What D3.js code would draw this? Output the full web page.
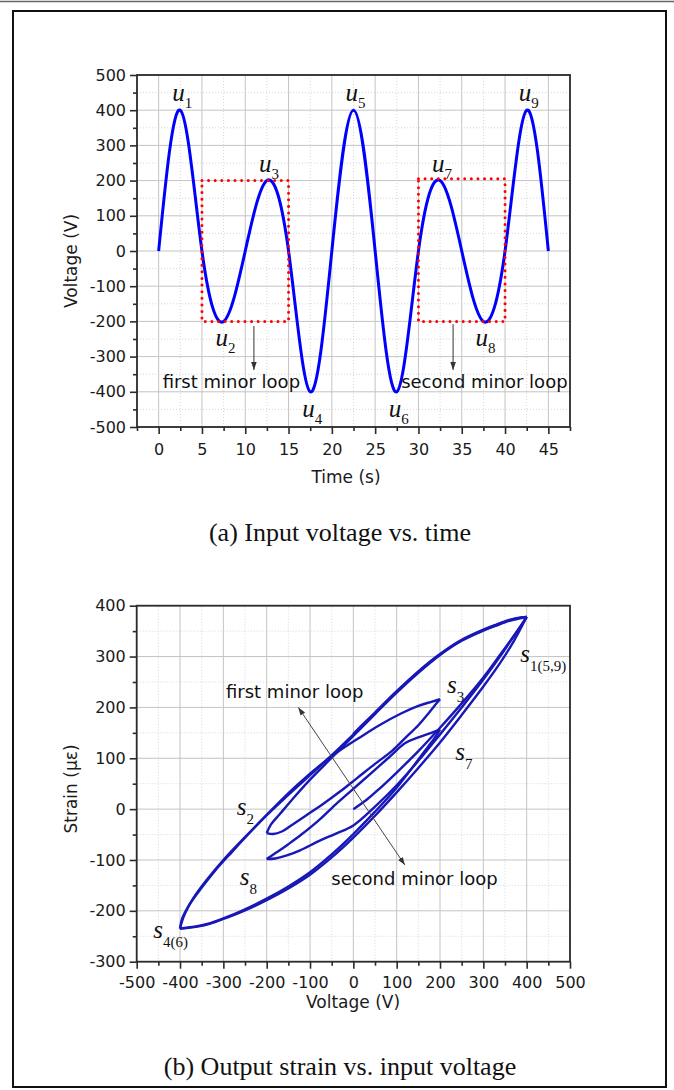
<!DOCTYPE html>
<html>
<head>
<meta charset="utf-8">
<script src="https://cdn.jsdelivr.net/npm/d3@7"></script>
<style>
  body { margin: 0; background: #fff; }
  svg { display: block; }
</style>
</head>
<body>
<svg width="674" height="1090"></svg>
<script>
// ---------- data (a): input voltage turning points ----------
const timePts = [0, 2.5, 5, 7.5, 10, 12.5, 15, 17.5, 20, 22.5, 25, 27.5, 30, 32.5, 35, 37.5, 40, 42.5, 45];
const voltPts = [0, 400, 0, -200, 0, 200, 0, -400, 0, 400, 0, -400, 0, 200, 0, -200, 0, 400, 0];
const uNames = ["1", "2", "3", "4", "5", "6", "7", "8", "9"];

const timeTicks = [0, 5, 10, 15, 20, 25, 30, 35, 40, 45];
const timeMinor = [-2.5, 2.5, 7.5, 12.5, 17.5, 22.5, 27.5, 32.5, 37.5, 42.5, 47.5];
const voltTicksA = [-500, -400, -300, -200, -100, 0, 100, 200, 300, 400, 500];
const voltMinorA = [-450, -350, -250, -150, -50, 50, 150, 250, 350, 450];

// red dotted boxes of the two minor loops
const boxT0 = [5, 30];
const boxT1 = [15, 40];
const boxV0 = [-200, -200];
const boxV1 = [200, 205];

// ---------- data (b): strain vs voltage, one array per half cycle ----------
const branch1 = [[0, 0], [30, 18], [60, 40], [100, 72], [150, 114], [200, 160], [250, 208], [300, 259], [340, 305], [370, 340], [390, 364], [400, 378]];
const branch2 = [[400, 378], [385, 375], [360, 370], [330, 361], [300, 351], [250, 331], [200, 303], [150, 268], [100, 229], [50, 187], [0, 144], [-50, 101], [-100, 58], [-140, 20], [-170, -10], [-190, -30], [-200, -47]];
const branch3 = [[-200, -47], [-185, -49], [-165, -44], [-140, -30], [-110, -13], [-70, 10], [-30, 35], [10, 62], [50, 89], [90, 115], [120, 140], [150, 165], [175, 190], [192, 208], [200, 216]];
const branch4 = [[200, 216], [180, 211], [150, 203], [110, 188], [60, 165], [15, 141], [-30, 116], [-80, 84], [-130, 47], [-180, 6], [-230, -38], [-280, -84], [-320, -122], [-355, -160], [-380, -190], [-395, -215], [-400, -235]];
const branch5 = [[-400, -235], [-385, -234], [-360, -231], [-330, -225], [-300, -216], [-250, -199], [-200, -179], [-150, -156], [-100, -129], [-50, -95], [0, -56], [50, -13], [100, 33], [150, 81], [200, 131], [250, 185], [300, 241], [340, 289], [370, 330], [388, 358], [396, 372], [400, 378]];
const branch6 = [[400, 378], [385, 376], [360, 371], [330, 362], [300, 352], [250, 332], [200, 304], [150, 270], [100, 231], [50, 189], [0, 147], [-50, 106], [-100, 67], [-150, 28], [-200, -12], [-250, -55], [-300, -100], [-340, -141], [-370, -176], [-388, -204], [-396, -222], [-400, -235]];
const branch7 = [[-400, -235], [-385, -233], [-360, -230], [-330, -224], [-300, -215], [-250, -197], [-200, -176], [-150, -152], [-100, -124], [-50, -89], [0, -49], [50, -5], [100, 42], [140, 86], [170, 120], [190, 143], [200, 157]];
const branch8 = [[200, 157], [180, 150], [150, 141], [120, 130], [80, 100], [40, 70], [0, 40], [-40, 10], [-80, -22], [-120, -50], [-150, -69], [-175, -84], [-200, -98]];
const branch9 = [[-200, -98], [-180, -97], [-150, -90], [-123, -81], [-80, -63], [-40, -48], [0, -32], [50, 5], [100, 47], [150, 95], [200, 147], [250, 200], [300, 255], [340, 302], [370, 340], [390, 365], [400, 378]];
const branch10 = [[400, 378], [386, 377], [360, 372], [330, 363], [300, 353], [250, 333], [200, 305], [150, 271], [100, 232], [50, 190], [20, 165], [0, 148]];

const voltTicksB = [-500, -400, -300, -200, -100, 0, 100, 200, 300, 400, 500];
const voltMinorB = [-450, -350, -250, -150, -50, 50, 150, 250, 350, 450];
const strainTicks = [-300, -200, -100, 0, 100, 200, 300, 400];
const strainMinor = [-250, -150, -50, 50, 150, 250, 350];

// s labels (anchor in data units of plot b)
const sLabelV = [385, -269, 216, -462, 235, -262];
const sLabelS = [289, -12, 228, -254, 96, -149];
const sLabelSub = ["1(5,9)", "2", "3", "4(6)", "7", "8"];

const svg = d3.select("svg");
const sans = "'DejaVu Sans', Arial, sans-serif";
const serif = "'Liberation Serif', 'Times New Roman', serif";

// page frame
svg.append("line").attr("x1", 0).attr("x2", 674).attr("y1", 1.5).attr("y2", 1.5)
  .attr("stroke", "#666").attr("stroke-width", 1.5);
svg.append("rect").attr("x", 13).attr("y", 11).attr("width", 653).attr("height", 1076)
  .attr("fill", "none").attr("stroke", "#111").attr("stroke-width", 2);

svg.append("defs").append("marker")
  .attr("id", "head").attr("viewBox", "0 0 10 10").attr("refX", 10).attr("refY", 5)
  .attr("markerWidth", 8).attr("markerHeight", 8).attr("orient", "auto-start-reverse")
  .append("path").attr("d", "M0,1.5L10,5L0,8.5Z").attr("fill", "#333");

// grid, ticks and box for one panel
function panel(x, y, xt, xm, yt, ym, xPad) {
  const g = svg.append("g");
  const [xa, xb] = x.range();
  const [ya, yb] = y.range();

  g.append("g").selectAll("line").data(xm).join("line")
    .attr("x1", d => x(d)).attr("x2", d => x(d)).attr("y1", ya).attr("y2", yb)
    .attr("stroke", "#d6d6d6").attr("stroke-dasharray", "1,2");
  g.append("g").selectAll("line").data(ym).join("line")
    .attr("y1", d => y(d)).attr("y2", d => y(d)).attr("x1", xa).attr("x2", xb)
    .attr("stroke", "#d6d6d6").attr("stroke-dasharray", "1,2");
  g.append("g").selectAll("line").data(xt).join("line")
    .attr("x1", d => x(d)).attr("x2", d => x(d)).attr("y1", ya).attr("y2", yb)
    .attr("stroke", "#c4c4c4");
  g.append("g").selectAll("line").data(yt).join("line")
    .attr("y1", d => y(d)).attr("y2", d => y(d)).attr("x1", xa).attr("x2", xb)
    .attr("stroke", "#c4c4c4");

  const styleAxis = (sel) => {
    sel.select(".domain").remove();
    sel.attr("font-family", sans).attr("font-size", 16);
    sel.selectAll(".tick line").attr("stroke", "#2b2b2b").attr("stroke-width", 1.6);
    sel.selectAll(".tick text").attr("fill", "#1a1a1a");
  };
  const plain = d => String(d);

  g.append("g").attr("transform", `translate(0,${ya})`)
    .call(d3.axisBottom(x).tickValues(xt).tickFormat(plain).tickSize(7).tickPadding(xPad).tickSizeOuter(0))
    .call(styleAxis);
  g.append("g").attr("transform", `translate(0,${ya})`)
    .call(d3.axisBottom(x).tickValues(xm).tickSize(4).tickFormat("").tickSizeOuter(0))
    .call(styleAxis);
  g.append("g").attr("transform", `translate(${xa},0)`)
    .call(d3.axisLeft(y).tickValues(yt).tickFormat(plain).tickSize(7).tickPadding(4).tickSizeOuter(0))
    .call(styleAxis);
  g.append("g").attr("transform", `translate(${xa},0)`)
    .call(d3.axisLeft(y).tickValues(ym).tickSize(4).tickFormat("").tickSizeOuter(0))
    .call(styleAxis);

  g.append("rect").attr("x", xa).attr("y", yb).attr("width", xb - xa).attr("height", ya - yb)
    .attr("fill", "none").attr("stroke", "#2b2b2b").attr("stroke-width", 1.8);
  return g;
}

function mathLabel(px, py, main, sub, size, subSize, dy) {
  const t = svg.append("text").attr("x", px).attr("y", py)
    .attr("font-family", serif).attr("fill", "#111");
  t.append("tspan").attr("font-style", "italic").attr("font-size", size).text(main);
  t.append("tspan").attr("font-size", subSize).attr("dy", dy).text(sub);
}

function title(px, py, txt, rotate) {
  svg.append("text")
    .attr("transform", `translate(${px},${py})` + (rotate ? " rotate(-90)" : ""))
    .attr("text-anchor", "middle").attr("font-family", sans).attr("font-size", 17)
    .attr("fill", "#1a1a1a").text(txt);
}

// ================= (a) =================
const xA = d3.scaleLinear().domain([-2.5, 47.5]).range([137, 570]);
const yA = d3.scaleLinear().domain([-500, 500]).range([427, 75]);
panel(xA, yA, timeTicks, timeMinor, voltTicksA, voltMinorA, 10);

const waveLine = d3.line()
  .x(d => xA(d[0])).y(d => yA(d[1]))
  .curve(d3.curveNatural);
svg.append("path").datum(d3.zip(timePts, voltPts))
  .attr("d", waveLine).attr("fill", "none").attr("stroke", "#0000ff").attr("stroke-width", 3);

boxT0.forEach((t0, i) => {
  svg.append("rect")
    .attr("x", xA(t0)).attr("y", yA(boxV1[i]))
    .attr("width", xA(boxT1[i]) - xA(t0)).attr("height", yA(boxV0[i]) - yA(boxV1[i]))
    .attr("fill", "none").attr("stroke", "#f00").attr("stroke-width", 3)
    .attr("stroke-linecap", "round").attr("stroke-dasharray", "0.01,6.6");
});

// peak labels u1..u9
timePts.forEach((t, i) => {
  if (i % 2 === 0) return;
  const v = voltPts[i];
  const up = v > 0;
  mathLabel(xA(t) - 8, yA(v) + (up ? -9 : 25), "u", uNames[(i - 1) / 2], 25, 15, 7);
});

// minor loop notes
[[11, -213, -338], [34, -208, -338]].forEach(([t, v0, v1]) => {
  svg.append("line").attr("x1", xA(t)).attr("x2", xA(t)).attr("y1", yA(v0)).attr("y2", yA(v1))
    .attr("stroke", "#333").attr("stroke-width", 1).attr("marker-end", "url(#head)");
});
svg.append("text").attr("x", xA(0.46)).attr("y", yA(-389)).attr("font-family", sans)
  .attr("font-size", 18).attr("fill", "#111").text("first minor loop");
svg.append("text").attr("x", xA(28)).attr("y", yA(-389)).attr("font-family", sans)
  .attr("font-size", 18).attr("fill", "#111").text("second minor loop");

title(346, 483, "Time (s)");
title(77, 261, "Voltage (V)", true);
svg.append("text").attr("x", 340).attr("y", 541).attr("text-anchor", "middle")
  .attr("font-family", serif).attr("font-size", 26).attr("fill", "#111")
  .text("(a) Input voltage vs. time");

// ================= (b) =================
const xB = d3.scaleLinear().domain([-500, 500]).range([136.7, 570]);
const yB = d3.scaleLinear().domain([-300, 400]).range([961.7, 605.7]);
panel(xB, yB, voltTicksB, voltMinorB, strainTicks, strainMinor, 8);

const loopLine = d3.line()
  .x(d => xB(d[0])).y(d => yB(d[1]))
  .curve(d3.curveCatmullRom.alpha(0.5));
const branches = [branch1, branch2, branch3, branch4, branch5, branch6, branch7, branch8, branch9, branch10];
svg.append("g").selectAll("path").data(branches).join("path")
  .attr("d", loopLine).attr("fill", "none").attr("stroke", "#1818b8")
  .attr("stroke-width", 2.4).attr("stroke-linejoin", "round");

sLabelV.forEach((v, i) => {
  mathLabel(xB(v), yB(sLabelS[i]), "s", sLabelSub[i], 25, 15, 9);
});

svg.append("line")
  .attr("x1", xB(-127)).attr("y1", yB(200)).attr("x2", xB(119)).attr("y2", yB(-110))
  .attr("stroke", "#444").attr("stroke-width", 1)
  .attr("marker-start", "url(#head)").attr("marker-end", "url(#head)");
svg.append("text").attr("x", xB(-294)).attr("y", yB(218)).attr("font-family", sans)
  .attr("font-size", 18).attr("fill", "#111").text("first minor loop");
svg.append("text").attr("x", xB(-51)).attr("y", yB(-149)).attr("font-family", sans)
  .attr("font-size", 18).attr("fill", "#111").text("second minor loop");

title(353, 1008, "Voltage (V)");
title(77, 789, "Strain (με)", true);
svg.append("text").attr("x", 340).attr("y", 1075).attr("text-anchor", "middle")
  .attr("font-family", serif).attr("font-size", 26).attr("fill", "#111")
  .text("(b) Output strain vs. input voltage");
</script>
</body>
</html>
